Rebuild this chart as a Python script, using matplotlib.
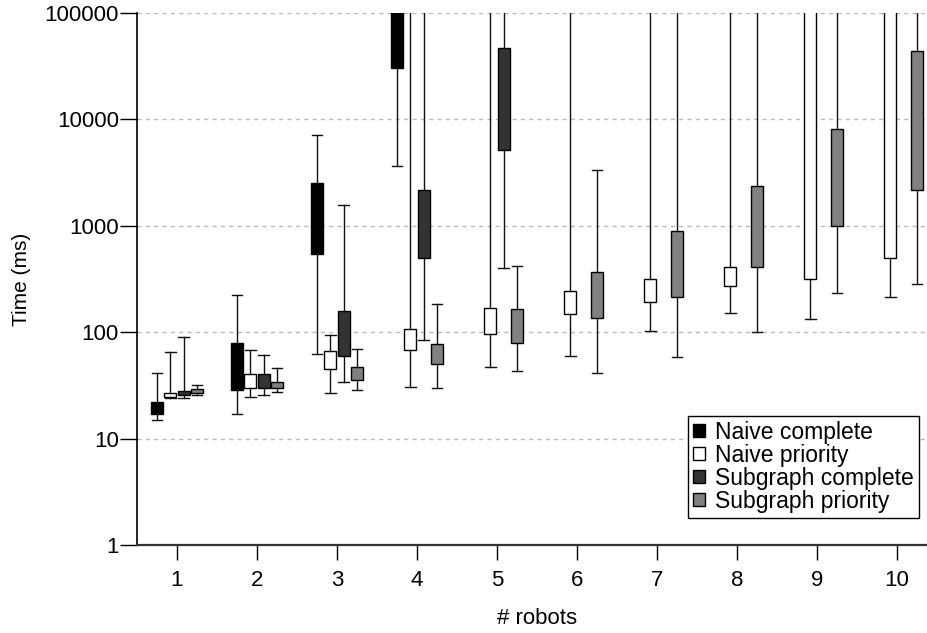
#!/usr/bin/env python3
"""Box plots of planning time vs number of robots (log scale)."""
import matplotlib
matplotlib.use('Agg')
import matplotlib.pyplot as plt
from matplotlib.patches import Patch

plt.rcParams['font.family'] = ['Liberation Sans', 'DejaVu Sans']

ROBOTS = [1, 2, 3, 4, 5, 6, 7, 8, 9, 10]
SERIES = ["Naive complete", "Naive priority", "Subgraph complete", "Subgraph priority"]
FILLS = ['#000000', '#ffffff', '#333333', '#808080']

# (whisker low, q1, q3, whisker high) per robot count, None = no result
naive_complete = [
    (15.0, 17.0, 22.2, 41.8),
    (17.0, 28.8, 78.9, 225),
    (62.2, 543, 2506, 7120),
    (3660, 30500, 200000, 300000),
    None, None, None, None, None, None,
]
naive_priority = [
    (24.0, 24.9, 26.8, 65.8),
    (24.9, 29.8, 40.9, 68.7),
    (26.8, 45.0, 66.4, 93.8),
    (30.9, 68.7, 106.7, 300000),
    (47.0, 95.8, 168, 300000),
    (60.4, 147.6, 246, 300000),
    (103, 191, 315, 300000),
    (151, 272, 408, 300000),
    (133.5, 319, 200000, 300000),
    (216, 502, 200000, 300000),
]
subgraph_complete = [
    (24.0, 25.8, 28.0, 89.8),
    (25.8, 29.8, 40.9, 61.7),
    (34.0, 60.4, 158, 1567),
    (84.8, 496, 2153, 300000),
    (404, 5140, 46300, 300000),
    None, None, None, None, None,
]
subgraph_priority = [
    (26.0, 26.8, 29.2, 31.8),
    (27.7, 29.8, 34.0, 46.6),
    (29.0, 35.7, 47.0, 69.3),
    (29.9, 50.8, 77.2, 184.5),
    (43.1, 78.9, 164.5, 419.5),
    (41.8, 135.5, 371, 3340),
    (58.7, 213, 888, 300000),
    (100, 413, 2378, 300000),
    (235.5, 995, 8050, 300000),
    (286, 2168, 44000, 300000),
]
ALL = [naive_complete, naive_priority, subgraph_complete, subgraph_priority]

YTICKS = [1, 10, 100, 1000, 10000, 100000]

fig = plt.figure(figsize=(9.28, 6.33), dpi=100)
ax = fig.add_axes([137/928, (633-545.4)/633, 800/928, 532.7/633])

step = 0.1667
width = 0.146
for si, data in enumerate(ALL):
    off = (si - 1.5) * step
    stats, pos = [], []
    for r, d in zip(ROBOTS, data):
        if d is None:
            continue
        lo, q1, q3, hi = d
        stats.append(dict(whislo=lo, q1=q1, med=q1, q3=q3, whishi=hi))
        pos.append(r + off)
    ax.bxp(stats, positions=pos, widths=width, showfliers=False, patch_artist=True,
           boxprops=dict(facecolor=FILLS[si], edgecolor='black', linewidth=1),
           whiskerprops=dict(color='#111111', linewidth=1),
           capprops=dict(color='#111111', linewidth=1),
           capwidths=width * 0.9,
           medianprops=dict(visible=False), manage_ticks=False, zorder=3)

ax.set_yscale('log')
ax.set_ylim(1, 100000)
ax.set_xlim(0.5, 10.5)
ax.set_yticks(YTICKS)
ax.set_yticklabels([str(v) for v in YTICKS])
ax.minorticks_off()
ax.set_xticks(ROBOTS)
ax.set_xticklabels([str(r) for r in ROBOTS])
ax.tick_params(axis='y', length=12, width=1, pad=1, labelsize=16)
ax.tick_params(axis='x', length=11, width=1, pad=7, labelsize=16)

for v in YTICKS[1:]:
    ax.axhline(v, color='#bbbbbb', linestyle=(0, (3, 3)), linewidth=1, zorder=1)

ax.spines['top'].set_visible(False)
ax.spines['right'].set_visible(False)
ax.spines['left'].set_linewidth(1.2)
ax.spines['bottom'].set_linewidth(1.6)
ax.spines['bottom'].set_color('#333333')

ax.set_ylabel("Time (ms)", fontsize=15, labelpad=10)
ax.set_xlabel("# robots", fontsize=16, labelpad=12)

# ── legend ──
handles = [Patch(facecolor=c, edgecolor='black', linewidth=1) for c in FILLS]
leg = ax.legend(handles, SERIES, loc='lower right', bbox_to_anchor=(919/928, (633-518)/633),
                bbox_transform=fig.transFigure, borderaxespad=0, fontsize=16.5,
                labelspacing=0, handlelength=0.5, handleheight=0.5,
                handletextpad=0.45, borderpad=0.22, fancybox=False, framealpha=1)
leg.get_frame().set_edgecolor('black')
leg.get_frame().set_linewidth(1)

plt.savefig("out.png", dpi=100)
plt.close()
print("✅ out.png")
